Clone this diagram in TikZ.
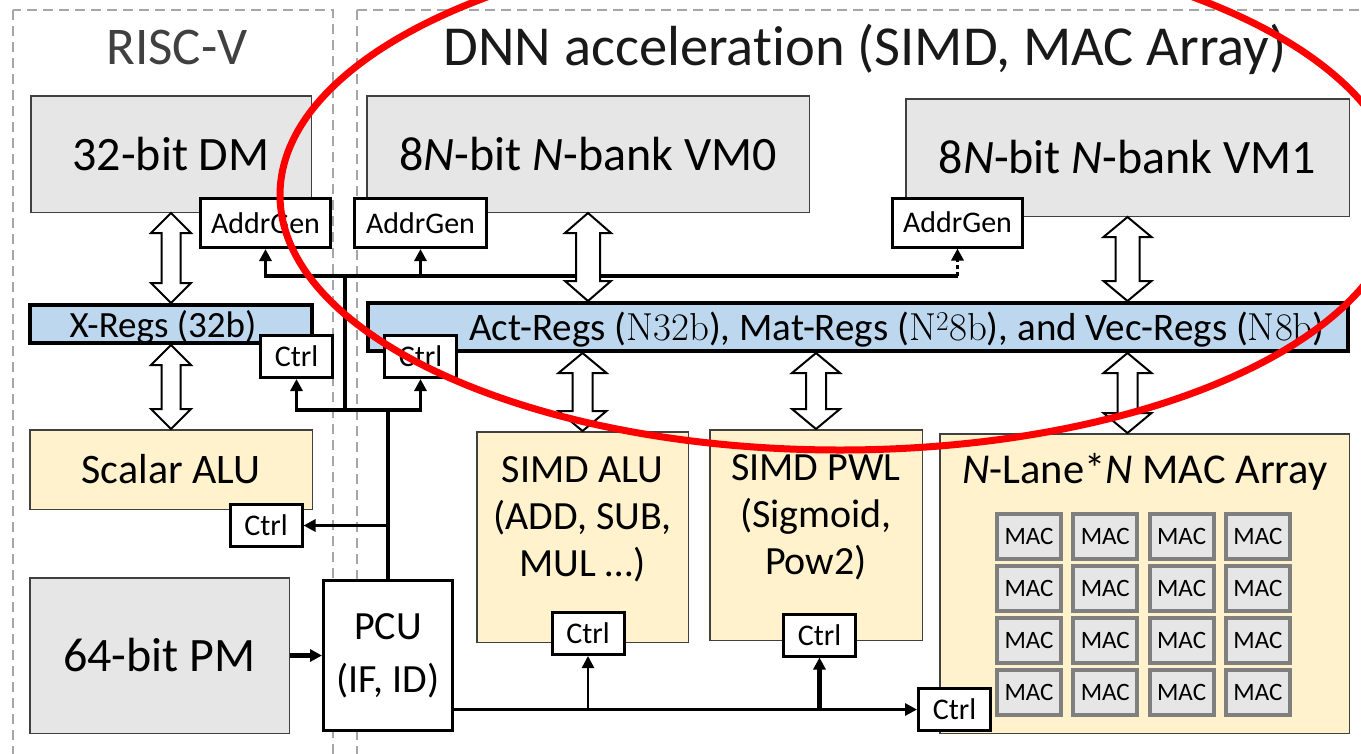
\documentclass[tikz,border=0pt]{standalone}
\usepackage[no-math]{fontspec}
\setmainfont[Ligatures=NoCommon]{Carlito}
\usetikzlibrary{arrows.meta,calc}
\definecolor{MemGray}{RGB}{230,230,230}
\definecolor{UnitYellow}{RGB}{255,242,204}
\definecolor{RegBlue}{RGB}{189,215,238}
\definecolor{FrameGray}{RGB}{166,166,166}
\definecolor{CellGray}{RGB}{127,127,127}
\definecolor{EdgeGray}{RGB}{64,64,64}
\newcommand{\pxfont}[2]{\fontsize{#1pt}{#2pt}\selectfont}
\newcommand{\regw}[1]{{\fontfamily{lmr}\selectfont #1}}
% hollow two-headed arrow from a top point to a bottom point
\newcommand{\dualarrow}[4]{%
  \draw[hollow] let \p1=#1, \p2=#2 in
    (\x1,\y1) -- (\x1+#4pt,\y1-20pt) -- (\x1+#3pt,\y1-20pt) -- (\x1+#3pt,\y2+20pt)
    -- (\x1+#4pt,\y2+20pt) -- (\x1,\y2) -- (\x1-#4pt,\y2+20pt) -- (\x1-#3pt,\y2+20pt)
    -- (\x1-#3pt,\y1-20pt) -- (\x1-#4pt,\y1-20pt) -- cycle;}
\tikzset{
  mem/.style={draw=EdgeGray, line width=1.5pt, fill=MemGray, inner sep=0pt, font=\pxfont{48}{56}},
  unit/.style={draw=EdgeGray, line width=1.5pt, fill=UnitYellow, inner sep=0pt},
  regbar/.style={draw=black, line width=4pt, fill=RegBlue, inner sep=0pt},
  smallbox/.style={draw=black, line width=3pt, fill=white, inner sep=0pt, font=\pxfont{30}{34}},
  ctrlbox/.style={smallbox, minimum width=72pt, minimum height=42pt},
  agbox/.style={smallbox, minimum width=130pt, minimum height=49pt},
  maccell/.style={draw=CellGray, line width=4pt, fill=MemGray, minimum width=64pt,
    minimum height=45pt, inner sep=0pt, font=\pxfont{25}{28}},
  dashframe/.style={draw=FrameGray, line width=2pt, dash pattern=on 10pt off 6pt},
  sig/.style={line width=3.5pt},
  sigarrow/.style={sig, -{Triangle[length=12pt,width=12pt]}},
  hollow/.style={draw=black, line width=2pt, fill=white, line join=miter},
  redmark/.style={draw=red, line width=7pt},
}
\begin{document}
\begin{tikzpicture}[x=1pt,y=-1pt, every node/.style={align=center}]
  \clip (0,0) rectangle (1361,753);
  \fill[white] (0,0) rectangle (1361,753);
  % dashed frames and titles
  \draw[dashframe] (13,10) rectangle (333,790);
  \draw[dashframe] (357,10) rectangle (1390,790);
  \node[font=\pxfont{53}{60}, text=EdgeGray, anchor=base] (riscvtitle) at (177,64) {RISC-V};
  \node[font=\pxfont{56.5}{62}, text=black!90, anchor=base] (dnntitle) at (865,65) {DNN acceleration (SIMD, MAC Array)};

  % memories
  \node[mem, minimum width=280.5pt, minimum height=116.5pt] (dm) at (171,154) {32-bit DM};
  \node[mem, minimum width=442.5pt, minimum height=116.5pt] (vm0) at (588,154) {8\textit{N}-bit \textit{N}-bank VM0};
  \node[mem, minimum width=443.5pt, minimum height=117.5pt] (vm1) at (1127.5,157.5) {8\textit{N}-bit \textit{N}-bank VM1};
  \node[mem, minimum width=259.5pt, minimum height=155.5pt] (pm) at (159.5,655.5) {64-bit PM};
  \node[agbox] (agdm) at (265.5,223) {AddrGen};
  \node[agbox, minimum width=132pt] (agvm0) at (420.5,223) {AddrGen};
  \node[agbox] (agvm1) at (957.5,222.5) {AddrGen};

  % register files
  \node[regbar, minimum width=282pt, minimum height=38pt] (xregs) at (171,324) {};
  \node[font=\pxfont{37}{42}, anchor=base] (xregstxt) at (163,337) {X-Regs (32b)};
  \node[regbar, minimum width=980pt, minimum height=48pt] (act) at (858,327) {};
  \node[font=\pxfont{39}{44}, anchor=base] (acttxt) at (897,340)
    {Act-Regs (\regw{N32b}), Mat-Regs (\regw{N\textsuperscript{2}8b}), and Vec-Regs (\regw{N8b})};

  % compute units
  \node[unit, minimum width=282.5pt, minimum height=79.5pt, font=\pxfont{42}{48}] (scalu) at (171,469.5) {Scalar ALU};
  \node[unit, minimum width=211.5pt, minimum height=210.5pt] (simdalu) at (582.5,537) {};
  \node[font=\pxfont{40}{47}] (alutxt) at (582.5,519.5) {SIMD ALU\\(ADD, SUB,\\MUL \dots)};
  \node[unit, minimum width=212.5pt, minimum height=210.5pt] (simdpwl) at (816,535) {};
  \node[font=\pxfont{40}{47}] (pwltxt) at (816,517.5) {SIMD PWL\\(Sigmoid,\\Pow2)};
  \node[unit, minimum width=409.5pt, minimum height=299.5pt] (mac) at (1144.5,583.5) {};
  \node[font=\pxfont{42.5}{47}, anchor=base] (mactxt) at (1145,483) {\textit{N}-Lane*\textit{N} MAC Array};
  \foreach \col in {0,...,3}
    \foreach \row in {0,...,3}
      \node[maccell] (cell\col\row) at (1029+76.3*\col, 536.5+52*\row) {MAC};
  \node[draw=black, line width=3pt, fill=white, inner sep=0pt, minimum width=129pt,
        minimum height=150pt, font=\pxfont{40}{53}] (pcu) at (388,655.5) {PCU\\(IF, ID)};

  % control boxes
  \node[ctrlbox] (xctrl) at (296.5,356.5) {Ctrl};
  \node[ctrlbox] (actctrl) at (420.5,356.5) {Ctrl};
  \node[ctrlbox] (scctrl) at (266,525.5) {Ctrl};
  \node[ctrlbox] (aluctrl) at (588,633.5) {Ctrl};
  \node[ctrlbox] (pwlctrl) at (819.5,635) {Ctrl};
  \node[ctrlbox] (macctrl) at (954.5,709.5) {Ctrl};

  % control wiring
  \coordinate (j1) at (pcu.north |- 0,410);
  \coordinate (j2) at (345,410);
  \coordinate (j3) at (345,276);
  \draw[sig] (pcu.north) -- (j1);
  \draw[sigarrow] (pcu.north |- scctrl.east) -- (scctrl.east);
  \draw[sigarrow] (j1) -| (xctrl.south);
  \draw[sigarrow] (j1) -| (actctrl.south);
  \draw[sig] (j2) -- (j3);
  \draw[sigarrow] (j3) -| (agdm.south);
  \draw[sigarrow] (j3) -| (agvm0.south);
  \draw[sig] (j3) -- (agvm1.south |- j3);
  \draw[sigarrow, dash pattern=on 4pt off 3pt] (agvm1.south |- j3) -- (agvm1.south);
  \draw[sigarrow, line width=5pt] (pm.east) -- (pcu.west);
  \draw[sigarrow, line width=3pt] (pcu.east |- macctrl.west) -- (macctrl.west);
  \draw[sigarrow, line width=2.5pt] (aluctrl.south |- macctrl.west) -- (aluctrl.south);
  \draw[sigarrow, line width=5pt] (pwlctrl.south |- macctrl.west) -- (pwlctrl.south);

  % data paths
  \dualarrow{(dm.south)}{(xregs.north)}{9.5}{20}
  \dualarrow{(xregs.south)}{(scalu.north)}{9.5}{20}
  \dualarrow{(vm0.south)}{(vm0.south |- act.north)}{12}{23}
  \dualarrow{(simdalu.north |- act.south)}{(simdalu.north)}{10}{24}
  \dualarrow{(simdpwl.north |- act.south)}{(simdpwl.north)}{10}{24}
  \dualarrow{(vm1.south)}{(vm1.south |- act.north)}{12}{24}
  \dualarrow{(vm1.south |- act.south)}{(vm1.south |- mac.north)}{10}{24}

  % highlight
  \draw[redmark] (840,195) ellipse [x radius=560pt, y radius=255pt];
\end{tikzpicture}
\end{document}
